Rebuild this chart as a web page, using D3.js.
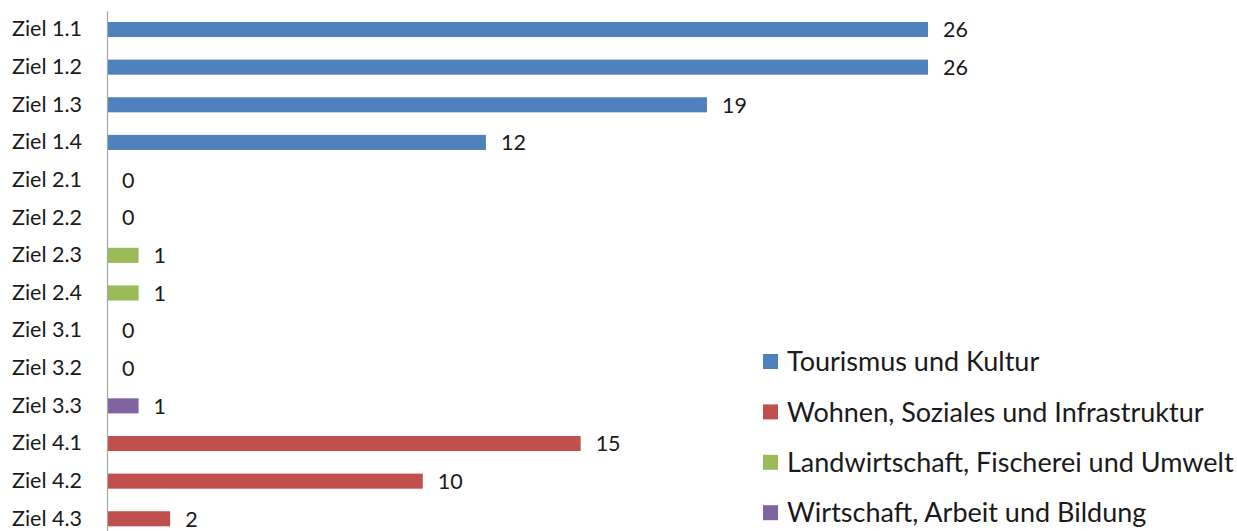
<!DOCTYPE html>
<html>
<head>
<meta charset="utf-8">
<script src="https://cdn.jsdelivr.net/npm/d3@7"></script>
<style>
  body { margin: 0; background: #fff; }
  text { font-family: Lato, "Open Sans", sans-serif; fill: #1a1a1a; }
</style>
</head>
<body>
<div id="chart"></div>
<script>
// data
categories = ["Ziel 1.1","Ziel 1.2","Ziel 1.3","Ziel 1.4","Ziel 2.1","Ziel 2.2","Ziel 2.3","Ziel 2.4","Ziel 3.1","Ziel 3.2","Ziel 3.3","Ziel 4.1","Ziel 4.2","Ziel 4.3"]
values = [26, 26, 19, 12, 0, 0, 1, 1, 0, 0, 1, 15, 10, 2]
groups = ["Tourismus und Kultur","Tourismus und Kultur","Tourismus und Kultur","Tourismus und Kultur",
          "Landwirtschaft, Fischerei und Umwelt","Landwirtschaft, Fischerei und Umwelt","Landwirtschaft, Fischerei und Umwelt","Landwirtschaft, Fischerei und Umwelt",
          "Wirtschaft, Arbeit und Bildung","Wirtschaft, Arbeit und Bildung","Wirtschaft, Arbeit und Bildung",
          "Wohnen, Soziales und Infrastruktur","Wohnen, Soziales und Infrastruktur","Wohnen, Soziales und Infrastruktur"]
legendKeys = ["Tourismus und Kultur","Wohnen, Soziales und Infrastruktur","Landwirtschaft, Fischerei und Umwelt","Wirtschaft, Arbeit und Bildung"]

width = 1237
height = 531

color = d3.scaleOrdinal()
  .domain(legendKeys)
  .range(["#4f81bd","#c0504d","#9bbb59","#8064a2"])

x = d3.scaleLinear()
  .domain([0, 26])
  .range([107, 928])

y = d3.scaleBand()
  .domain(categories)
  .range([10.7, 537.6])
  .paddingInner(0.6)
  .paddingOuter(0.3)

const svg = d3.select("#chart").append("svg")
  .attr("width", width)
  .attr("height", height)

const rows = categories.map((c, i) => ({cat: c, value: values[i], group: groups[i]}))

// bars
svg.append("g")
  .selectAll("rect")
  .data(rows)
  .enter().append("rect")
    .attr("x", x(0))
    .attr("y", d => y(d.cat))
    .attr("width", d => x(d.value) - x(0))
    .attr("height", y.bandwidth())
    .attr("fill", d => color(d.group))

// value labels
svg.append("g")
  .selectAll("text")
  .data(rows)
  .enter().append("text")
    .attr("x", d => x(d.value) + 15)
    .attr("y", d => y(d.cat) + y.bandwidth() / 2)
    .attr("dy", "0.36em")
    .style("font-size", "21.5px")
    .text(d => d.value)

// category axis
const axis = svg.append("g")
  .attr("transform", "translate(" + x(0) + ",0)")
  .call(d3.axisLeft(y).tickSize(0).tickPadding(25))

axis.select(".domain").attr("stroke", "#a6a6a6").attr("stroke-width", 1.2)
axis.selectAll(".tick text")
  .style("font-size", "21.5px")
  .style("font-family", "Lato, 'Open Sans', sans-serif")
  .attr("fill", "#1a1a1a")

// legend
const legend = svg.append("g")
  .selectAll("g")
  .data(legendKeys)
  .enter().append("g")
    .attr("transform", (d, i) => "translate(763," + (361.5 + i * 50.4) + ")")

legend.append("rect")
  .attr("x", 0)
  .attr("y", -7.5)
  .attr("width", 15)
  .attr("height", 15)
  .attr("fill", d => color(d))

legend.append("text")
  .attr("x", 24)
  .attr("dy", "0.36em")
  .style("font-size", "27px")
  .text(d => d)
</script>
</body>
</html>
